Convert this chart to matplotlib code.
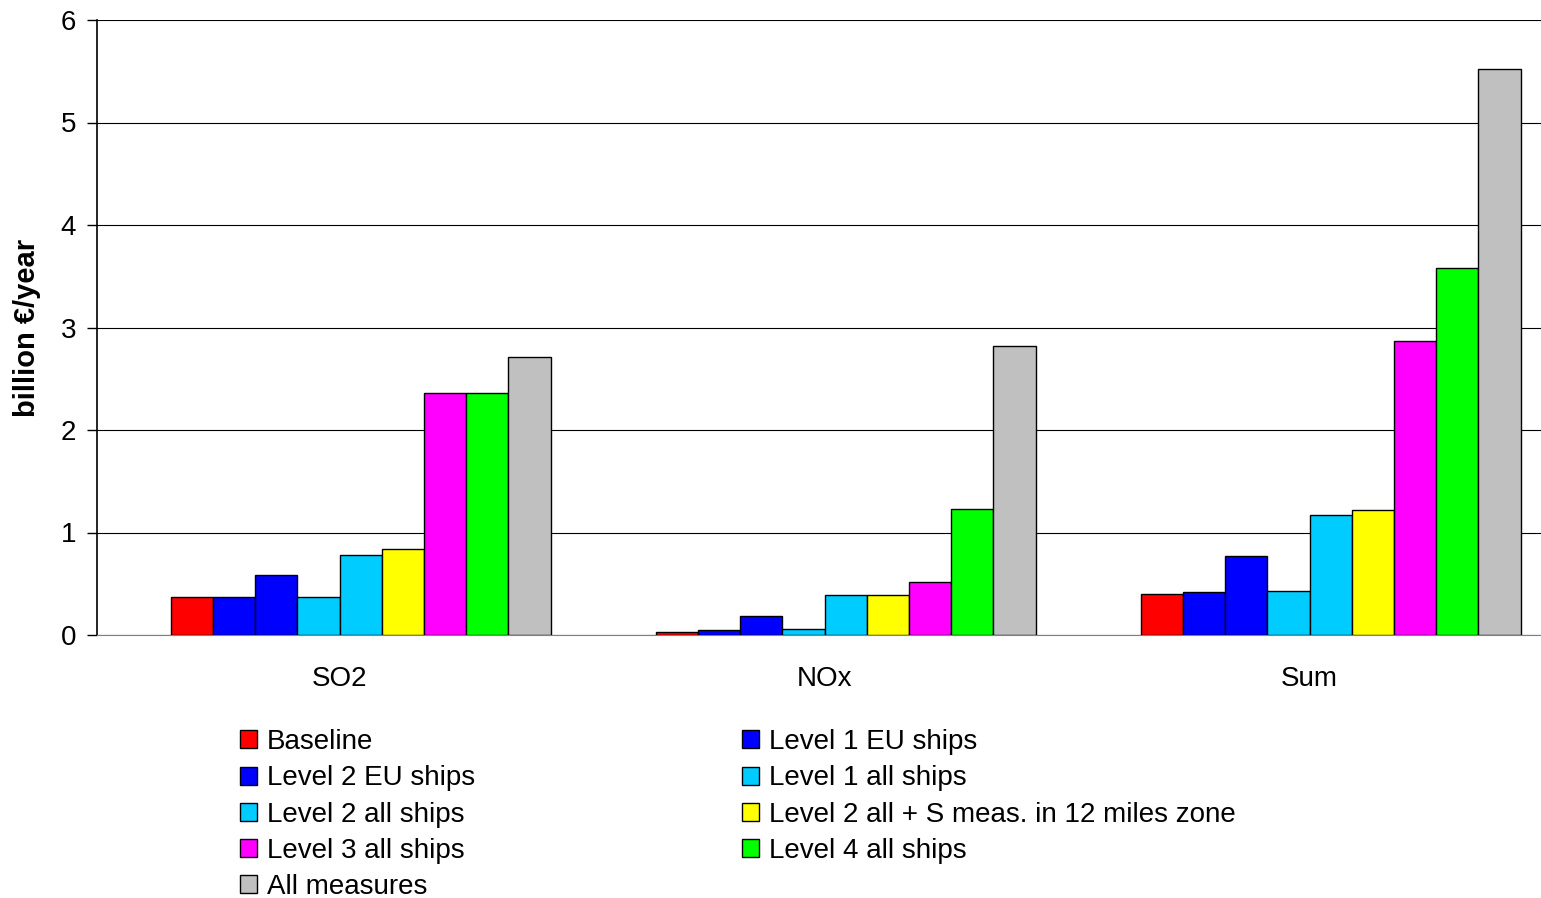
import matplotlib
matplotlib.use('Agg')
import matplotlib.pyplot as plt
import numpy as np

plt.rcParams['font.family'] = ['Liberation Sans', 'DejaVu Sans']

categories = ['SO2', 'NOx', 'Sum']
series_names = ['Baseline', 'Level 1 EU ships', 'Level 2 EU ships', 'Level 1 all ships',
                'Level 2 all ships', 'Level 2 all + S meas. in 12 miles zone',
                'Level 3 all ships', 'Level 4 all ships', 'All measures']
colors = ['#ff0000', '#0000ff', '#0000ff', '#00ccff', '#00ccff', '#ffff00',
          '#ff00ff', '#00ff00', '#c0c0c0']
# values per series: SO2, NOx, Sum
baseline = [0.37, 0.03, 0.40]
level1_eu = [0.37, 0.05, 0.42]
level2_eu = [0.59, 0.19, 0.77]
level1_all = [0.37, 0.06, 0.43]
level2_all = [0.78, 0.39, 1.17]
level2_all_s = [0.84, 0.39, 1.22]
level3_all = [2.36, 0.52, 2.87]
level4_all = [2.36, 1.23, 3.58]
all_measures = [2.71, 2.82, 5.52]
values = [baseline, level1_eu, level2_eu, level1_all, level2_all,
          level2_all_s, level3_all, level4_all, all_measures]

fig = plt.figure(figsize=(15.41, 8.98), dpi=100)
ax = fig.add_axes([97/1541, 1-635/898, 1-97/1541, (635-20)/898])

x = np.arange(len(categories))
w = 0.087
bars = []
for i, (name, vals) in enumerate(zip(series_names, values)):
    # bars sit a little right of the category label, as in the original
    b = ax.bar(x + (i - 3.5) * w, vals, w, color=colors[i], edgecolor='black',
               linewidth=1.0, label=name, zorder=3)
    bars.append(b)

ax.set_ylim(0, 6)
ax.set_xlim(-0.5, 2.477)
ax.set_yticks(range(7))
ax.yaxis.grid(True, color='black', linewidth=0.8, zorder=0)
ax.set_xticks(x)
ax.set_xticklabels(categories, fontsize=20)
ax.tick_params(axis='x', length=0, pad=22)
ax.tick_params(axis='y', labelsize=20, length=7, width=1, pad=8)
ax.spines['top'].set_visible(False)
ax.spines['right'].set_visible(False)
ax.spines['bottom'].set_color('#808080')
ax.spines['left'].set_linewidth(1.2)
ax.set_ylabel('billion €/year', fontsize=21, fontweight='bold', labelpad=14)

# legend filled row by row like the original
order = [0, 2, 4, 6, 8, 1, 3, 5, 7]
handles = [bars[i] for i in order]
labels = [series_names[i] for i in order]
fig.legend(handles, labels, ncol=2, loc='upper left',
           bbox_to_anchor=(240/1541, 1-729/898), frameon=False, fontsize=20,
           handlelength=0.62, handleheight=0.62, handletextpad=0.35,
           labelspacing=0.37, columnspacing=9.6, borderpad=0, borderaxespad=0)

fig.savefig('out.png', dpi=100)
